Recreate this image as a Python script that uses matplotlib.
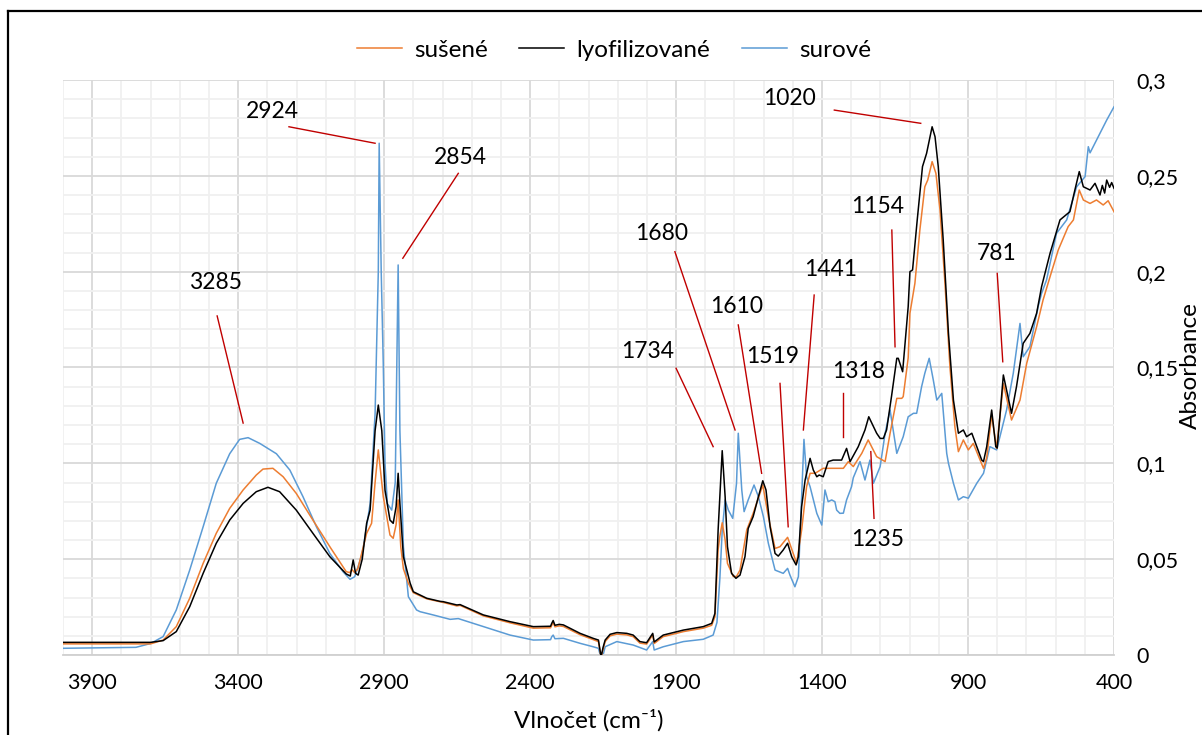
import matplotlib
matplotlib.use("Agg")
import matplotlib.pyplot as plt
from matplotlib.lines import Line2D
from matplotlib.ticker import MultipleLocator, FuncFormatter

plt.rcParams["font.family"] = ["Lato", "DejaVu Sans"]

# --- data ---
wn_lyo = [4000, 3700, 3657, 3612, 3566, 3520, 3475, 3429, 3383, 3338, 3298, 3258, 3201, 3144,
          3086, 3030, 3016, 3006, 2998, 2989, 2975, 2960, 2948, 2931, 2920, 2908, 2897, 2880,
          2869, 2859, 2852, 2846, 2834, 2811, 2800, 2754, 2709, 2697, 2651, 2640, 2560, 2469,
          2389, 2330, 2326, 2321, 2315, 2300, 2286, 2229, 2184, 2166, 2157, 2150, 2143, 2126,
          2103, 2069, 2047, 2024, 2001, 1980, 1975, 1944, 1875, 1807, 1778, 1767, 1756, 1742,
          1732, 1724, 1710, 1695, 1681, 1664, 1653, 1636, 1618, 1603, 1592, 1578, 1561, 1550,
          1533, 1518, 1504, 1489, 1481, 1470, 1458, 1441, 1430, 1418, 1410, 1396, 1379, 1362,
          1333, 1316, 1304, 1276, 1253, 1240, 1213, 1201, 1190, 1179, 1162, 1144, 1139, 1124,
          1105, 1099, 1090, 1074, 1056, 1042, 1030, 1023, 1013, 1002, 985, 967, 950, 933, 916,
          905, 887, 870, 853, 847, 836, 819, 805, 800, 779, 751, 734, 711, 688, 665, 648, 619,
          585, 551, 534, 519, 505, 482, 465, 448, 440, 432, 425, 415, 408, 400]
ab_lyo = [0.0066, 0.0066, 0.0075, 0.0122, 0.0252, 0.0426, 0.0583, 0.0704, 0.0791, 0.0852, 0.0875,
          0.0852, 0.0756, 0.0635, 0.0513, 0.0423, 0.0412, 0.0496, 0.0426, 0.0417, 0.0500, 0.0687,
          0.0756, 0.1170, 0.1304, 0.1170, 0.0860, 0.0704, 0.0687, 0.0774, 0.0948, 0.0790, 0.0513,
          0.0375, 0.0330, 0.0296, 0.0280, 0.0278, 0.0261, 0.0263, 0.0209, 0.0174, 0.0148, 0.0150,
          0.0165, 0.0180, 0.0155, 0.0160, 0.0157, 0.0113, 0.0087, 0.0078, -0.0010, 0.0040, 0.0078,
          0.0108, 0.0117, 0.0113, 0.0104, 0.0070, 0.0064, 0.0113, 0.0068, 0.0104, 0.0130, 0.0148,
          0.0165, 0.0217, 0.0652, 0.1066, 0.0826, 0.0565, 0.0426, 0.0400, 0.0417, 0.0513, 0.0660,
          0.0722, 0.0826, 0.0909, 0.0861, 0.0669, 0.0530, 0.0516, 0.0548, 0.0583, 0.0513, 0.0470,
          0.0513, 0.0774, 0.0913, 0.1026, 0.0965, 0.0930, 0.0939, 0.0930, 0.1009, 0.1017, 0.1017,
          0.1078, 0.1009, 0.1087, 0.1174, 0.1243, 0.1157, 0.1130, 0.1130, 0.1174, 0.1350, 0.1548,
          0.1548, 0.1478, 0.1817, 0.2000, 0.2009, 0.2270, 0.2548, 0.2617, 0.2704, 0.2756, 0.2704,
          0.2548, 0.2165, 0.1678, 0.1330, 0.1157, 0.1174, 0.1139, 0.1157, 0.1087, 0.1017, 0.1009,
          0.1087, 0.1278, 0.1087, 0.1080, 0.1461, 0.1261, 0.1400, 0.1626, 0.1678, 0.1783, 0.1922,
          0.2096, 0.2270, 0.2313, 0.2426, 0.2522, 0.2443, 0.2426, 0.2461, 0.2400, 0.2450, 0.2410,
          0.2478, 0.2440, 0.2465, 0.2435]

wn_sus = [4000, 3700, 3657, 3612, 3566, 3520, 3475, 3429, 3383, 3338, 3315, 3281, 3246, 3201,
          3144, 3086, 3030, 3018, 3010, 3001, 2990, 2960, 2943, 2931, 2920, 2903, 2880, 2869,
          2859, 2852, 2843, 2834, 2817, 2800, 2754, 2697, 2651, 2640, 2560, 2469, 2389, 2330,
          2326, 2321, 2315, 2300, 2286, 2229, 2184, 2166, 2157, 2150, 2143, 2126, 2103, 2069,
          2047, 2024, 2001, 1980, 1975, 1944, 1875, 1807, 1778, 1767, 1756, 1750, 1742, 1732,
          1724, 1704, 1693, 1681, 1658, 1636, 1613, 1603, 1584, 1561, 1544, 1518, 1499, 1487,
          1470, 1453, 1441, 1424, 1396, 1373, 1327, 1310, 1293, 1264, 1242, 1213, 1184, 1167,
          1144, 1127, 1122, 1105, 1099, 1082, 1065, 1048, 1038, 1023, 1010, 996, 979, 962, 945,
          933, 916, 899, 882, 847, 836, 819, 802, 779, 751, 722, 699, 665, 643, 619, 591, 557,
          539, 519, 505, 482, 460, 437, 420, 400]
ab_sus = [0.0058, 0.0058, 0.0078, 0.0148, 0.0296, 0.0478, 0.0635, 0.0765, 0.0861, 0.0939, 0.0970,
          0.0974, 0.0930, 0.0843, 0.0704, 0.0565, 0.0435, 0.0430, 0.0445, 0.0430, 0.0450, 0.0635,
          0.0687, 0.0900, 0.1070, 0.0826, 0.0626, 0.0609, 0.0680, 0.0809, 0.0565, 0.0450, 0.0374,
          0.0325, 0.0293, 0.0274, 0.0256, 0.0259, 0.0204, 0.0168, 0.0140, 0.0142, 0.0155, 0.0170,
          0.0147, 0.0152, 0.0149, 0.0106, 0.0080, 0.0070, -0.0010, 0.0030, 0.0070, 0.0100, 0.0109,
          0.0105, 0.0096, 0.0062, 0.0057, 0.0105, 0.0060, 0.0096, 0.0122, 0.0140, 0.0155, 0.0200,
          0.0550, 0.0620, 0.0690, 0.0600, 0.0478, 0.0409, 0.0410, 0.0443, 0.0652, 0.0739, 0.0843,
          0.0887, 0.0722, 0.0556, 0.0565, 0.0614, 0.0530, 0.0478, 0.0652, 0.0878, 0.0948, 0.0948,
          0.0974, 0.0974, 0.0974, 0.1009, 0.0983, 0.1052, 0.1122, 0.1035, 0.1009, 0.1157, 0.1339,
          0.1339, 0.1348, 0.1550, 0.1783, 0.1939, 0.2217, 0.2443, 0.2478, 0.2574, 0.2513, 0.2322,
          0.1939, 0.1504, 0.1191, 0.1061, 0.1122, 0.1070, 0.1104, 0.0974, 0.1030, 0.1252, 0.1078,
          0.1417, 0.1226, 0.1330, 0.1522, 0.1713, 0.1852, 0.1974, 0.2113, 0.2235, 0.2270, 0.2426,
          0.2374, 0.2356, 0.2374, 0.2348, 0.2370, 0.2313]

wn_sur = [4000, 3750, 3700, 3657, 3612, 3566, 3520, 3475, 3429, 3395, 3366, 3326, 3269, 3223,
          3178, 3132, 3086, 3041, 3017, 3001, 2978, 2971, 2948, 2931, 2920, 2917, 2910, 2903,
          2897, 2889, 2874, 2862, 2852, 2846, 2834, 2817, 2789, 2777, 2732, 2674, 2646, 2560,
          2469, 2389, 2330, 2326, 2321, 2315, 2286, 2229, 2184, 2166, 2157, 2150, 2143, 2103,
          2047, 2001, 1980, 1975, 1944, 1875, 1807, 1773, 1760, 1750, 1742, 1732, 1721, 1706,
          1693, 1687, 1675, 1667, 1653, 1633, 1618, 1601, 1584, 1561, 1533, 1518, 1510, 1493,
          1481, 1470, 1462, 1453, 1441, 1418, 1401, 1390, 1379, 1367, 1356, 1350, 1339, 1327,
          1316, 1299, 1293, 1270, 1253, 1236, 1224, 1201, 1184, 1167, 1144, 1122, 1105, 1087,
          1076, 1059, 1048, 1033, 1019, 1007, 990, 973, 967, 950, 933, 916, 899, 870, 847, 825,
          802, 768, 745, 722, 711, 688, 660, 648, 631, 597, 562, 528, 499, 488, 482, 454, 425,
          400]
ab_sur = [0.0035, 0.0040, 0.0060, 0.0096, 0.0235, 0.0443, 0.0669, 0.0896, 0.1050, 0.1125, 0.1134,
          0.1104, 0.1050, 0.0965, 0.0826, 0.0669, 0.0530, 0.0435, 0.0395, 0.0408, 0.0513, 0.0565,
          0.0790, 0.1260, 0.2000, 0.2670, 0.2000, 0.1520, 0.1000, 0.0790, 0.0756, 0.0900, 0.2035,
          0.1170, 0.0565, 0.0304, 0.0235, 0.0226, 0.0209, 0.0186, 0.0190, 0.0148, 0.0104, 0.0078,
          0.0080, 0.0095, 0.0104, 0.0085, 0.0087, 0.0061, 0.0043, 0.0035, -0.0016, 0.0000, 0.0043,
          0.0070, 0.0052, 0.0026, 0.0070, 0.0026, 0.0043, 0.0070, 0.0082, 0.0104, 0.0170, 0.0400,
          0.0650, 0.0809, 0.0756, 0.0713, 0.0896, 0.1157, 0.0861, 0.0748, 0.0809, 0.0887, 0.0826,
          0.0722, 0.0583, 0.0443, 0.0426, 0.0452, 0.0417, 0.0356, 0.0409, 0.0826, 0.1125, 0.0930,
          0.0878, 0.0739, 0.0678, 0.0861, 0.0800, 0.0809, 0.0800, 0.0756, 0.0739, 0.0740, 0.0809,
          0.0878, 0.0925, 0.1009, 0.0913, 0.1017, 0.0896, 0.0983, 0.1157, 0.1278, 0.1052, 0.1139,
          0.1243, 0.1261, 0.1261, 0.1400, 0.1470, 0.1548, 0.1435, 0.1330, 0.1365, 0.1052, 0.1000,
          0.0896, 0.0809, 0.0826, 0.0818, 0.0896, 0.0948, 0.1087, 0.1070, 0.1278, 0.1470, 0.1730,
          0.1556, 0.1609, 0.1817, 0.1887, 0.1957, 0.2200, 0.2270, 0.2443, 0.2496, 0.2652, 0.2620,
          0.2704, 0.2791, 0.2860]

# peak labels: text, text position, line start, line end (wavenumber, absorbance)
peak_txt = ["3285", "2924", "2854", "1734", "1680", "1610", "1519", "1441", "1318", "1235",
            "1154", "1020", "781"]
peak_txt_pos = [(3479, 0.1946), (3284, 0.2838), (2638, 0.2598), (1996, 0.1581), (1949, 0.2200),
                (1691, 0.1817), (1570, 0.1556), (1370, 0.2009), (1276, 0.1478), (1208, 0.0600),
                (1210, 0.2339), (1510, 0.2906), (802, 0.2097)]
peak_line_a = [(3472, 0.1769), (3226, 0.2756), (2646, 0.2513), (1900, 0.1496), (1904, 0.2104),
               (1687, 0.1722), (1544, 0.1417), (1427, 0.1878), (1327, 0.1368), (1233, 0.1061),
               (1161, 0.2217), (1358, 0.2843), (800, 0.1991)]
peak_line_b = [(3383, 0.1210), (2931, 0.2670), (2836, 0.2070), (1773, 0.1087), (1698, 0.1174),
               (1607, 0.0948), (1516, 0.0669), (1464, 0.1174), (1327, 0.1139), (1222, 0.0713),
               (1150, 0.1608), (1062, 0.2774), (781, 0.1530)]

fig = plt.figure(figsize=(12.02, 7.35), dpi=100)
ax = fig.add_axes([63 / 1202, 1 - 655 / 735, (1114 - 63) / 1202, (655 - 80) / 735])

ax.plot(wn_sus, ab_sus, color="#ED7D31", lw=1.1, label="sušené", zorder=3)
ax.plot(wn_lyo, ab_lyo, color="#000000", lw=1.1, label="lyofilizované", zorder=4)
ax.plot(wn_sur, ab_sur, color="#5B9BD5", lw=1.1, label="surové", zorder=2)

for t, p, a, b in zip(peak_txt, peak_txt_pos, peak_line_a, peak_line_b):
    ax.plot([a[0], b[0]], [a[1], b[1]], color="#C00000", lw=1.0, zorder=5)
    ax.text(p[0], p[1], t, fontsize=16.5, ha="center", va="center", zorder=6)

ax.set_xlim(4000, 400)
ax.set_ylim(0, 0.3)
ax.xaxis.set_major_locator(MultipleLocator(500, offset=400))
ax.xaxis.set_minor_locator(MultipleLocator(100))
ax.yaxis.set_major_locator(MultipleLocator(0.05))
ax.yaxis.set_minor_locator(MultipleLocator(0.01))
ax.yaxis.tick_right()
ax.yaxis.set_major_formatter(FuncFormatter(lambda v, _: ("%g" % round(v, 2)).replace(".", ",")))

ax.grid(which="major", color="#D9D9D9", lw=1.3, zorder=0)
ax.grid(which="minor", color="#F0F0F0", lw=1.3, zorder=0)
ax.set_axisbelow(True)
ax.tick_params(which="both", length=0, labelsize=15.5)
ax.tick_params(axis="x", pad=13)
ax.tick_params(axis="y", pad=16)
for s in ["left", "top", "right"]:
    ax.spines[s].set_visible(False)
ax.spines["bottom"].set_color("#D0D0D0")
ax.spines["bottom"].set_linewidth(1.3)

fig.text(589 / 1202, 1 - 720 / 735, "Vlnočet (cm⁻¹)", fontsize=17.5, ha="center", va="center")
fig.text(1190 / 1202, 1 - 366 / 735, "Absorbance", fontsize=17.5, ha="center", va="center",
         rotation=90)

fig.legend(loc="center", bbox_to_anchor=(614 / 1202, 1 - 50 / 735), ncol=3, frameon=False,
           fontsize=17.5, handlelength=1.85, handletextpad=0.5, columnspacing=1.3)

# outer frame (top and left edges visible)
fig.add_artist(Line2D([8 / 1202, 8 / 1202], [0, 1 - 11 / 735], color="black", lw=1.6))
fig.add_artist(Line2D([8 / 1202, 1], [1 - 11 / 735, 1 - 11 / 735], color="black", lw=1.6))

fig.savefig("out.png", dpi=100)
